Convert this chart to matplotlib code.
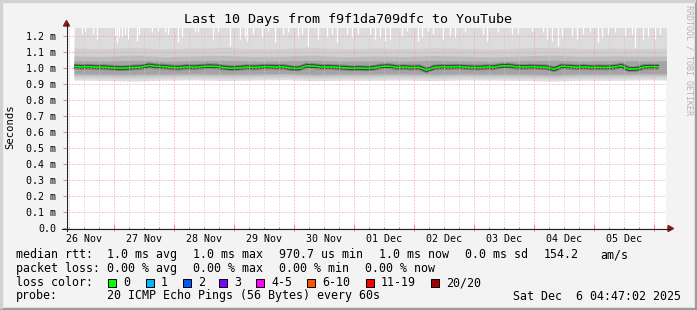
import numpy as np
import matplotlib
matplotlib.use("Agg")
import matplotlib.pyplot as plt
from matplotlib.patches import Rectangle, Polygon
from matplotlib.lines import Line2D

W, H, DPI = 697, 310, 100
MONO = "DejaVu Sans Mono"

# ---------------- data ----------------
title = "Last 10 Days from f9f1da709dfc to YouTube"
# time axis: hours since 26 Nov 2025 00:00; graph ends Sat Dec 6 04:47:02 2025
window_end_h = 240 + 4 + 47 / 60 + 2 / 3600
window_len_h = 240
day_midnights_h = [0, 24, 48, 72, 96, 120, 144, 168, 192, 216, 240]
day_labels = ["26 Nov", "27 Nov", "28 Nov", "29 Nov", "30 Nov",
              "01 Dec", "02 Dec", "03 Dec", "04 Dec", "05 Dec"]
y_ticks_ms = [0.0, 0.1, 0.2, 0.3, 0.4, 0.5, 0.6, 0.7, 0.8, 0.9, 1.0, 1.1, 1.2]
y_tick_labels = ["0.0"] + ["%.1f m" % v for v in y_ticks_ms[1:]]

# median RTT (ms), one value every 3 hours starting 26 Nov 08:00
median_hours = np.arange(8, 243, 3)
median_ms = [1.010, 1.006, 1.008, 1.005, 1.006, 1.002, 0.999, 1.000, 1.004, 1.006,
             1.016, 1.010, 1.008, 1.004, 1.002, 1.007, 1.005, 1.008, 1.012, 1.010,
             1.003, 0.999, 1.001, 1.006, 1.004, 1.007, 1.008, 1.006, 1.007, 0.999,
             0.998, 1.014, 1.012, 1.006, 1.007, 1.005, 1.002, 0.999, 1.000, 0.998,
             1.001, 1.010, 1.012, 1.004, 1.006, 1.003, 1.005, 0.986, 1.004, 1.007,
             1.006, 1.008, 1.006, 1.004, 1.003, 1.006, 1.005, 1.013, 1.014, 1.007,
             1.006, 1.008, 1.006, 1.005, 0.992, 1.011, 1.008, 1.005, 1.007, 1.004,
             1.005, 1.004, 1.006, 1.014, 0.993, 0.994, 1.007, 1.008, 1.007]

# smoke envelopes (ms), one value every 12 hours starting 26 Nov 08:00
smoke_hours = np.arange(8, 249, 12)
smoke_low_a = [0.925, 0.922, 0.918, 0.924, 0.926, 0.922, 0.925, 0.927, 0.920, 0.924, 0.923,
               0.925, 0.921, 0.926, 0.924, 0.922, 0.918, 0.924, 0.923, 0.926, 0.925]
smoke_up_b = [1.125, 1.120, 1.130, 1.118, 1.125, 1.128, 1.120, 1.122, 1.130, 1.118, 1.125,
              1.120, 1.127, 1.122, 1.118, 1.125, 1.130, 1.120, 1.124, 1.121, 1.125]
smoke_low_b = [0.940, 0.938, 0.936, 0.940, 0.941, 0.938, 0.940, 0.942, 0.937, 0.939, 0.940,
               0.941, 0.937, 0.941, 0.939, 0.938, 0.934, 0.940, 0.939, 0.941, 0.940]
smoke_up_c = [1.075, 1.072, 1.080, 1.070, 1.076, 1.078, 1.072, 1.074, 1.080, 1.070, 1.075,
              1.072, 1.078, 1.074, 1.070, 1.076, 1.080, 1.072, 1.076, 1.073, 1.075]
smoke_low_c = [0.953, 0.951, 0.950, 0.953, 0.954, 0.951, 0.953, 0.955, 0.950, 0.952, 0.953,
               0.954, 0.950, 0.954, 0.952, 0.951, 0.947, 0.953, 0.952, 0.954, 0.953]
smoke_up_d = [1.045, 1.043, 1.048, 1.042, 1.046, 1.047, 1.043, 1.044, 1.048, 1.042, 1.045,
              1.043, 1.047, 1.044, 1.042, 1.046, 1.048, 1.043, 1.046, 1.044, 1.045]
smoke_low_d = [0.964, 0.962, 0.961, 0.964, 0.965, 0.962, 0.964, 0.966, 0.961, 0.963, 0.964,
               0.965, 0.961, 0.965, 0.963, 0.962, 0.958, 0.964, 0.963, 0.965, 0.964]

# columns where the slowest ping stayed below the top of the graph (hours, ms)
top_dip_hours = [11.1, 12.4, 15.7, 17.3, 24.4, 25.3, 26.1, 27.1, 28.4, 29.5, 33.1, 34.0,
                 39.3, 41.7, 44.4, 45.7, 49.7, 51.1, 56.4, 57.7, 63.7, 65.7, 70.4, 74.4,
                 76.4, 77.1, 79.7, 83.1, 85.7, 88.4, 91.7, 93.7, 97.7, 99.1, 101.7, 105.7,
                 109.1, 111.1, 113.1, 117.1, 119.3, 121.7, 126.4, 128.4, 130.4, 132.4,
                 134.4, 139.1, 141.1, 145.7, 147.3, 149.7, 151.7, 155.7, 158.4, 160.4,
                 164.4, 171.7, 173.1, 177.7, 183.1, 185.5, 191.1, 195.7, 197.1, 199.1,
                 201.7, 203.1, 207.1, 209.1, 211.7, 214.4, 217.7, 219.1, 221.7, 224.4,
                 228.4, 231.1, 232.4, 235.7, 237.7, 240.4, 242.4]
top_dip_ms = [1.213, 1.223, 1.213, 1.181, 1.202, 1.160, 1.192, 1.202, 1.213, 1.181, 1.171, 1.213,
              1.223, 1.233, 1.223, 1.213, 1.160, 1.192, 1.233, 1.223, 1.181, 1.223, 1.140, 1.181,
              1.192, 1.171, 1.213, 1.192, 1.233, 1.160, 1.213, 1.223, 1.192, 1.213, 1.140,
              1.181, 1.192, 1.213, 1.160, 1.213, 1.192, 1.213, 1.213, 1.181, 1.192, 1.171,
              1.181, 1.202, 1.233, 1.171, 1.192, 1.233, 1.213, 1.181, 1.202, 1.192,
              1.223, 1.213, 1.171, 1.223, 1.213, 1.213, 1.233, 1.223, 1.181, 1.171,
              1.140, 1.192, 1.202, 1.181, 1.213, 1.233, 1.160, 1.192, 1.213, 1.223,
              1.202, 1.213, 1.129, 1.181, 1.192, 1.181, 1.213]

legend_rtt = ["median rtt:", "1.0 ms avg", "1.0 ms max", "970.7 us min",
              "1.0 ms now", "0.0 ms sd", "154.2", "am/s"]
legend_loss = ["packet loss:", "0.00 % avg", "0.00 % max", "0.00 % min", "0.00 % now"]
loss_labels = ["0", "1", "2", "3", "4-5", "6-10", "11-19", "20/20"]
loss_colors = ["#00ff00", "#00b8ff", "#0059ff", "#7e00ff", "#ff00ff",
               "#ff5500", "#ff0000", "#a10000"]
probe_text = "20 ICMP Echo Pings (56 Bytes) every 60s"
date_text = "Sat Dec  6 04:47:02 2025"
side_text = "RRDTOOL / TOBI OETIKER"

# ---------------- figure ----------------
def fx(px):
    return px / W

def fy(py):
    return 1 - py / H

fig = plt.figure(figsize=(W / DPI, H / DPI), dpi=DPI, facecolor="#f3f3f3")

# canvas 3D border
fig.add_artist(Rectangle((0, 0), 1, 2 / H, transform=fig.transFigure, color="#9c9c9c", zorder=0))
fig.add_artist(Rectangle((1 - 2 / W, 0), 2 / W, 1, transform=fig.transFigure, color="#9c9c9c", zorder=0))
fig.add_artist(Rectangle((0, 1 - 2 / H), 1 - 2 / W, 2 / H, transform=fig.transFigure, color="#d2d2d2", zorder=0))
fig.add_artist(Rectangle((0, 2 / H), 2 / W, 1 - 4 / H, transform=fig.transFigure, color="#d2d2d2", zorder=0))

ax_left, ax_right, ax_top, ax_bot = 66, 666, 28, 228
ax = fig.add_axes([fx(ax_left), fy(ax_bot), (ax_right - ax_left) / W, (ax_bot - ax_top) / H])
ax.set_facecolor("white")

# smoke
ax.fill_between(smoke_hours, smoke_low_a, 1.4, color="#dcdcdc", lw=0, zorder=1)
ax.vlines(top_dip_hours, top_dip_ms, 1.4, color="white", lw=0.9, zorder=1.1)
ax.fill_between(smoke_hours, smoke_low_b, smoke_up_b, color="#cfcfcf", lw=0, zorder=1.2)
ax.fill_between(smoke_hours, smoke_low_c, smoke_up_c, color="#bcbcbc", lw=0, zorder=1.3)
ax.fill_between(smoke_hours, smoke_low_d, smoke_up_d, color="#a4a4a4", lw=0, zorder=1.4)
for col, lw in [("#858585", 4.2), ("#565656", 2.9), ("#2c2c2c", 1.9)]:
    ax.plot(median_hours, median_ms, color=col, lw=lw, solid_capstyle="butt", zorder=1.5)
ax.plot(median_hours, median_ms, color="#00ff00", lw=1.2, solid_capstyle="butt", zorder=3)

# ticks / grid
ax.set_xticks(day_midnights_h)
ax.set_xticks(np.arange(0, 246, 6), minor=True)
ax.set_xticklabels([])
ax.set_yticks(y_ticks_ms)
ax.set_yticklabels(y_tick_labels, family=MONO, fontsize=7.2)
ax.set_xlim(window_end_h - window_len_h, window_end_h)
ax.set_ylim(0, 1.25)
ax.set_axisbelow(False)
ax.grid(True, which="major", axis="both", color="#ff9090", lw=0.72, ls=(0, (1, 2)))
ax.grid(True, which="minor", axis="x", color="#c8c8c8", lw=0.72, ls=(0, (1, 2)))
ax.tick_params(axis="y", which="major", length=2.5, width=0.72, color="#e08080", pad=4.5)
ax.tick_params(axis="x", which="major", length=4, width=0.72, color="#ff7070", direction="inout")
ax.tick_params(axis="x", which="minor", length=2, width=0.72, color="#909090", direction="inout")
for s in ax.spines.values():
    s.set_visible(False)

# date labels centred at noon of each day
for d, lab in zip(day_midnights_h, day_labels):
    ax.text(d + 12, -0.068, lab, ha="center", va="baseline", family=MONO, fontsize=7.2,
            transform=ax.get_xaxis_transform(), clip_on=False)

# axis lines with arrows
fig.add_artist(Line2D([fx(66.5), fx(66.5)], [fy(231), fy(24)], color="#202020", lw=0.8))
fig.add_artist(Line2D([fx(62), fx(670)], [fy(228.5), fy(228.5)], color="#202020", lw=0.8))
fig.add_artist(Polygon([(fx(63.5), fy(26)), (fx(69.5), fy(26)), (fx(66.5), fy(20.5))],
                       closed=True, color="#8b1a1a", transform=fig.transFigure))
fig.add_artist(Polygon([(fx(668), fy(225.5)), (fx(668), fy(231.5)), (fx(673.5), fy(228.5))],
                       closed=True, color="#8b1a1a", transform=fig.transFigure))

# texts
fig.text(fx(348), fy(19), title, ha="center", va="center", family=MONO, fontsize=9.6)
fig.text(fx(10), fy(127), "Seconds", ha="center", va="center", rotation=90, family=MONO, fontsize=7.6)
fig.text(fx(689), fy(60), side_text, ha="center", va="center", rotation=270, family=MONO,
         fontsize=6.0, color="#b4b4b4")

FS = 8.4
rtt_x = [16, 107, 193, 279, 379, 465, 544, 600]
for s, x in zip(legend_rtt, rtt_x):
    fig.text(fx(x), fy(258.3), s, ha="left", va="baseline", family=MONO, fontsize=FS)
loss_x = [16, 107, 193, 279, 365]
for s, x in zip(legend_loss, loss_x):
    fig.text(fx(x), fy(272.3), s, ha="left", va="baseline", family=MONO, fontsize=FS)
fig.text(fx(16), fy(286), "loss color:", ha="left", va="baseline", family=MONO, fontsize=FS)
sq_x = [108, 146, 183, 219, 256, 307, 366, 431]
for lab, col, x in zip(loss_labels, loss_colors, sq_x):
    fig.add_artist(Rectangle((fx(x), fy(286.5)), 7.5 / W, 8 / H, transform=fig.transFigure,
                             facecolor=col, edgecolor="black", lw=0.72))
    fig.text(fx(x + 15), fy(286), lab, ha="left", va="baseline", family=MONO, fontsize=FS)
fig.text(fx(16), fy(299.5), "probe:", ha="left", va="baseline", family=MONO, fontsize=FS)
fig.text(fx(107), fy(299.5), probe_text, ha="left", va="baseline", family=MONO, fontsize=FS)
fig.text(fx(513), fy(299.5), date_text, ha="left", va="baseline", family=MONO, fontsize=FS)

fig.savefig("out.png", dpi=DPI, facecolor=fig.get_facecolor())
